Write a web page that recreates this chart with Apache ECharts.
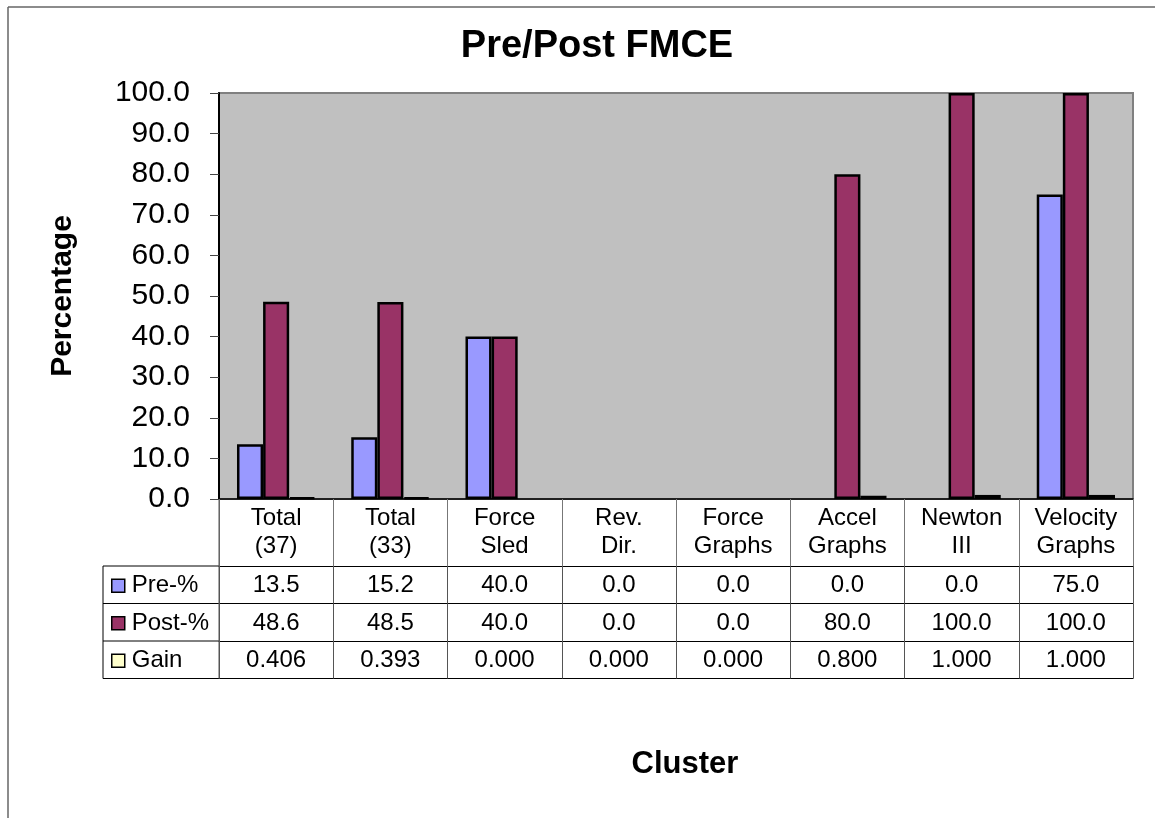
<!DOCTYPE html>
<html>
<head>
<meta charset="utf-8">
<title>Pre/Post FMCE</title>
<script src="https://cdn.jsdelivr.net/npm/echarts@6/dist/echarts.min.js"></script>
<style>
  html, body { margin: 0; padding: 0; background: #fff; }
  #chart { width: 1155px; height: 818px; }
</style>
</head>
<body>
<div id="chart"></div>
<script>
// Cluster names (header row of the data table)
const CATEGORIES = ['Total\n(37)', 'Total\n(33)', 'Force\nSled', 'Rev.\nDir.', 'Force\nGraphs', 'Accel\nGraphs', 'Newton\nIII', 'Velocity\nGraphs'];
// Series values
const PRE = [13.5, 15.2, 40.0, 0.0, 0.0, 0.0, 0.0, 75.0];
const POST = [48.6, 48.5, 40.0, 0.0, 0.0, 80.0, 100.0, 100.0];
const GAIN = [0.406, 0.393, 0.000, 0.000, 0.000, 0.800, 1.000, 1.000];
const SERIES_NAMES = ['Pre-%', 'Post-%', 'Gain'];
const Y_TICKS = [0, 10, 20, 30, 40, 50, 60, 70, 80, 90, 100];

// Layout
const FONT = '"Liberation Sans", Arial, sans-serif';
const GRID_LEFT = 219, GRID_RIGHT = 22, GRID_TOP = 93, GRID_BOTTOM = 319;
const PLOT_BOTTOM = 818 - GRID_BOTTOM;       // y of the value-axis zero line
const HEADER_H = 67;                          // category-name row
const ROW_H = 37.5;                           // each data row
const LEGEND_LEFT = 103;                      // left edge of the row-label column
const COLORS = ['#9999FF', '#993366', '#FFFFCC'];

const chart = echarts.init(document.getElementById('chart'), null, { renderer: 'canvas' });

// one bottom axis per table row; its line is the row's top border, its ticks the cell dividers
function rowAxis(offset, formatter, tickLen, tickColor, showLabel) {
  return {
    type: 'category',
    data: CATEGORIES,
    gridIndex: 0,
    position: 'bottom',
    offset: offset,
    boundaryGap: true,
    axisLine: { show: true, lineStyle: { color: '#000', width: 1 } },
    axisTick: { show: tickLen > 0, interval: 0, length: tickLen, lineStyle: { color: tickColor, width: 1 } },
    axisLabel: {
      show: showLabel,
      interval: 0,
      hideOverlap: false,
      formatter: formatter,
      color: '#000',
      fontFamily: FONT,
      fontSize: 24,
      verticalAlign: 'middle',
      margin: ROW_H / 2 + 1
    },
    splitLine: { show: false }
  };
}

const rowOffsets = [HEADER_H, HEADER_H + ROW_H, HEADER_H + 2 * ROW_H];
const rowValues = [PRE, POST, GAIN];
const rowDigits = [1, 1, 3];

const xAxes = [{
  type: 'category',
  data: CATEGORIES,
  position: 'bottom',
  boundaryGap: true,
  axisLine: { show: true, lineStyle: { color: '#000', width: 1.5 } },
  axisTick: { show: true, interval: 0, length: HEADER_H, lineStyle: { color: '#777', width: 1 } },
  axisLabel: {
    interval: 0,
    hideOverlap: false,
    color: '#000',
    fontFamily: FONT,
    fontSize: 24,
    lineHeight: 28,
    verticalAlign: 'middle',
    margin: HEADER_H / 2
  },
  splitLine: { show: false }
}];
rowOffsets.forEach((off, r) => {
  xAxes.push(rowAxis(off, (v, i) => rowValues[r][i].toFixed(rowDigits[r]), ROW_H, '#555', true));
});
// bottom border of the table
xAxes.push(rowAxis(HEADER_H + 3 * ROW_H, () => '', 0, '#000', false));

// a zero-height bar would still show its outline, so leave it unstroked
function barData(values) {
  return values.map(v => v === 0 ? { value: v, itemStyle: { borderWidth: 0 } } : v);
}

const legends = SERIES_NAMES.map((name, r) => ({
  data: [name],
  orient: 'vertical',
  left: LEGEND_LEFT + 8,
  top: PLOT_BOTTOM + HEADER_H + r * ROW_H + ROW_H / 2 - 11,
  itemWidth: 13,
  itemHeight: 13,
  itemGap: 0,
  icon: 'rect',
  selectedMode: false,
  itemStyle: { borderColor: '#000', borderWidth: 1.5 },
  textStyle: { color: '#000', fontFamily: FONT, fontSize: 24, lineHeight: 24, padding: [0, 0, 0, 2] },
  padding: 0
}));

const tableTop = PLOT_BOTTOM + HEADER_H;
const tableBottom = PLOT_BOTTOM + HEADER_H + 3 * ROW_H;
const frame = [
  // outer chart frame (top and left edges)
  { type: 'line', shape: { x1: 8, y1: 7, x2: 1155, y2: 7 }, style: { stroke: '#666', lineWidth: 1.5 } },
  { type: 'line', shape: { x1: 8, y1: 7, x2: 8, y2: 818 }, style: { stroke: '#666', lineWidth: 1.5 } },
  // row-label column of the data table
  { type: 'line', shape: { x1: LEGEND_LEFT, y1: tableTop, x2: LEGEND_LEFT, y2: tableBottom }, style: { stroke: '#000', lineWidth: 1 } }
];
for (let r = 0; r <= 3; r++) {
  const y = tableTop + r * ROW_H;
  frame.push({ type: 'line', shape: { x1: LEGEND_LEFT, y1: y, x2: GRID_LEFT, y2: y }, style: { stroke: '#000', lineWidth: 1 } });
}
frame.push({ type: 'line', shape: { x1: GRID_LEFT, y1: PLOT_BOTTOM, x2: GRID_LEFT, y2: tableBottom }, style: { stroke: '#555', lineWidth: 1 } });
frame.forEach(g => { g.silent = true; g.z = 100; });

chart.setOption({
  animation: false,
  backgroundColor: '#fff',
  title: [
    {
      text: 'Pre/Post FMCE',
      left: 592,
      textAlign: 'center',
      top: 23,
      textStyle: { fontFamily: FONT, fontSize: 38, fontWeight: 'bold', color: '#000' }
    },
    {
      text: 'Cluster',
      left: 680,
      textAlign: 'center',
      top: 744,
      textStyle: { fontFamily: FONT, fontSize: 31, fontWeight: 'bold', color: '#000' }
    }
  ],
  legend: legends,
  grid: {
    left: GRID_LEFT,
    right: GRID_RIGHT,
    top: GRID_TOP,
    bottom: GRID_BOTTOM,
    show: true,
    backgroundColor: '#C0C0C0',
    borderColor: '#808080',
    borderWidth: 2,
    containLabel: false
  },
  xAxis: xAxes,
  yAxis: {
    type: 'value',
    min: Y_TICKS[0],
    max: Y_TICKS[Y_TICKS.length - 1],
    interval: Y_TICKS[1] - Y_TICKS[0],
    name: 'Percentage',
    nameLocation: 'middle',
    nameGap: 141,
    nameRotate: 90,
    nameTextStyle: { fontFamily: FONT, fontSize: 30, fontWeight: 'bold', color: '#000' },
    axisLine: { show: true, lineStyle: { color: '#000', width: 2 } },
    axisTick: { show: true, length: 9, lineStyle: { color: '#444', width: 1 } },
    axisLabel: {
      color: '#000',
      fontFamily: FONT,
      fontSize: 30,
      margin: 29,
      formatter: v => v.toFixed(1)
    },
    splitLine: { show: false }
  },
  series: [PRE, POST, GAIN].map((vals, s) => ({
    name: SERIES_NAMES[s],
    type: 'bar',
    xAxisIndex: 0,
    data: barData(vals),
    barGap: '0%',
    barCategoryGap: '31.5%',
    itemStyle: { color: COLORS[s], borderColor: '#000', borderWidth: 2.5 }
  })),
  graphic: frame
});
</script>
</body>
</html>
